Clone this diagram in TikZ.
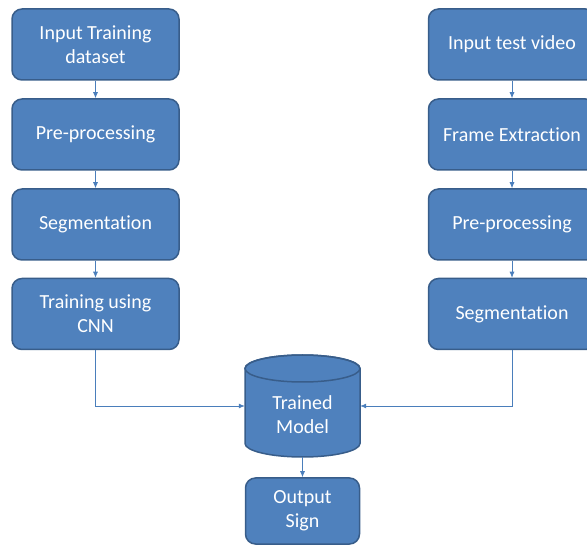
\documentclass[tikz,border=0pt]{standalone}
\usepackage{fontspec}
\setmainfont{Carlito}[Ligatures={NoCommon,NoContextual}]
\usetikzlibrary{arrows.meta}
\definecolor{boxfill}{HTML}{4F81BD}
\definecolor{boxedge}{HTML}{385D8A}
\definecolor{linec}{HTML}{4A7EBB}
\begin{document}
\begin{tikzpicture}[x=1pt,y=-1pt,
 lbl/.style={text=white, font=\fontsize{20}{24}\selectfont, align=center},
 proc/.style={lbl, draw=boxedge, line width=1.5pt, fill=boxfill, rounded corners=10pt, minimum width=167pt, minimum height=71pt, inner sep=0pt},
 conn/.style={draw=linec, line width=0.8pt, -{Latex[length=6pt,width=5pt]}}]
\useasboundingbox (0,0) rectangle (587,545);
\clip (0,0) rectangle (587,545);
% left column
\node[proc] (l1) at (95.5,44.5) {Input Training\\dataset};
\node[proc] (l2) at (95.5,134.5) {Pre-processing};
\node[proc] (l3) at (95.5,224.5) {Segmentation};
\node[proc] (l4) at (95.5,314) {Training using\\CNN};
% right column
\node[proc] (r1) at (512,44.5) {Input test video};
\node[proc] (r2) at (512,134.5) {Frame Extraction};
\node[proc] (r3) at (512,224.5) {Pre-processing};
\node[proc] (r4) at (512,314) {Segmentation};
% cylinder
\node[minimum width=115pt, minimum height=102pt, inner sep=0pt] (tm) at (302.5,406) {};
\filldraw[draw=boxedge, line width=1.5pt, fill=boxfill]
  (245,368.5) -- (245,443.5) arc[start angle=180, end angle=360, x radius=57.5, y radius=-13.5] -- (360,368.5)
  arc[start angle=0, end angle=180, x radius=57.5, y radius=-13.5] -- cycle;
\draw[boxedge, line width=1.5pt] (302.5,368.5) ellipse[x radius=57.5, y radius=13.5];
\node[lbl] (tmlabel) at (302.5,415) {Trained\\Model};
% output
\node[proc, minimum width=114pt, minimum height=66pt] (out) at (302.5,511) {Output\\Sign};
% connectors
\draw[conn] (l1) -- (l2);
\draw[conn] (l2) -- (l3);
\draw[conn] (l3) -- (l4);
\draw[conn] (r1) -- (r2);
\draw[conn] (r2) -- (r3);
\draw[conn] (r3) -- (r4);
\draw[conn] (l4.south) |- (tm.west);
\draw[conn] (r4.south) |- (tm.east);
\draw[conn] (tm.south) -- (out.north);
\end{tikzpicture}
\end{document}
